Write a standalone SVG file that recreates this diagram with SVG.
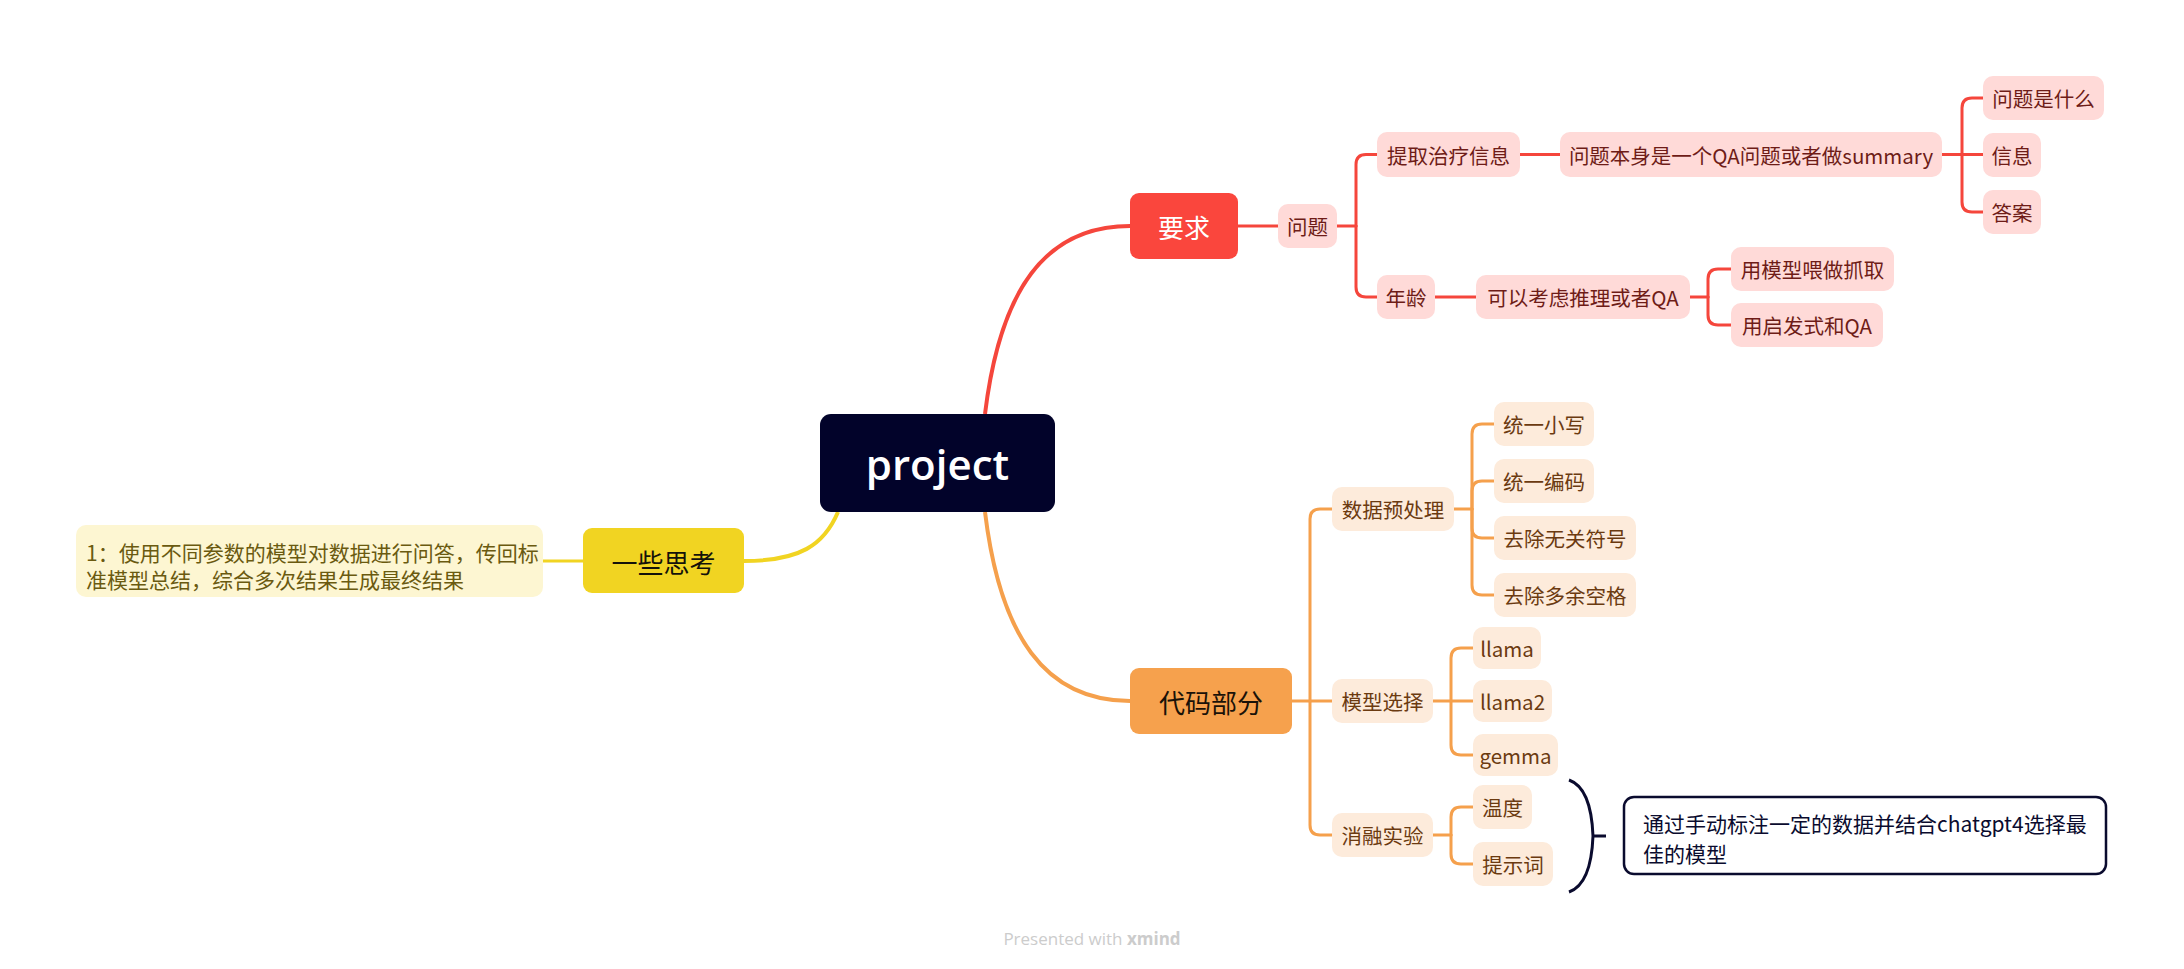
<svg xmlns="http://www.w3.org/2000/svg" width="2184" height="969" viewBox="0 0 2184 969">
  <style>
    text { font-family: "Noto Sans CJK SC", "Noto Sans", sans-serif; }
    .lbl { text-anchor: middle; dominant-baseline: central; font-size: 20.5px; }
    .red-sub rect { fill: #FFDAD8; }
    .red-sub text { fill: #6E1C17; }
    .org-sub rect { fill: #FDEBDB; }
    .org-sub text { fill: #6B3A10; }
    .red-line { fill: none; stroke: #F5463C; stroke-width: 3; stroke-linecap: round; }
    .org-line { fill: none; stroke: #F5A04C; stroke-width: 3; stroke-linecap: round; }
    .main { font-size: 26px; }
  </style>

  <rect width="2184" height="969" fill="#FFFFFF"/>

  <!-- connectors -->
  <g id="connectors">
    <!-- central curves -->
    <path d="M985,414 C1000,290 1045,226 1130,226" fill="none" stroke="#F5463C" stroke-width="4"/>
    <path d="M985,512 C1000,636 1045,701 1130,701" fill="none" stroke="#F5A04C" stroke-width="4"/>
    <path d="M838,512 C824,545 800,561 744,561" fill="none" stroke="#F1D422" stroke-width="4"/>
    <path d="M583,561 H543" fill="none" stroke="#F1D422" stroke-width="3"/>

    <!-- 要求 branch -->
    <path class="red-line" d="M1238,226 H1278"/>
    <path class="red-line" d="M1337,226 H1356"/>
    <path class="red-line" d="M1356,226 V164.5 Q1356,154.5 1366,154.5 H1377"/>
    <path class="red-line" d="M1356,226 V287 Q1356,297 1366,297 H1377"/>
    <path class="red-line" d="M1520,154.5 H1560"/>
    <path class="red-line" d="M1942,154.5 H1983"/>
    <path class="red-line" d="M1962,154.5 V108 Q1962,98 1972,98 H1983"/>
    <path class="red-line" d="M1962,154.5 V202 Q1962,212 1972,212 H1983"/>
    <path class="red-line" d="M1435,297 H1476"/>
    <path class="red-line" d="M1690,297 H1708"/>
    <path class="red-line" d="M1708,297 V279 Q1708,269 1718,269 H1731"/>
    <path class="red-line" d="M1708,297 V315 Q1708,325 1718,325 H1731"/>

    <!-- 代码部分 branch -->
    <path class="org-line" d="M1292,701 H1332"/>
    <path class="org-line" d="M1310,701 V519 Q1310,509 1320,509 H1332"/>
    <path class="org-line" d="M1310,701 V825 Q1310,835 1320,835 H1332"/>
    <path class="org-line" d="M1454,509 H1472"/>
    <path class="org-line" d="M1472,509 V434 Q1472,424 1482,424 H1494"/>
    <path class="org-line" d="M1472,509 V491 Q1472,481 1482,481 H1494"/>
    <path class="org-line" d="M1472,509 V528 Q1472,538 1482,538 H1494"/>
    <path class="org-line" d="M1472,509 V585 Q1472,595 1482,595 H1494"/>
    <path class="org-line" d="M1433,701 H1473"/>
    <path class="org-line" d="M1451,701 V658 Q1451,648 1461,648 H1473"/>
    <path class="org-line" d="M1451,701 V745 Q1451,755 1461,755 H1473"/>
    <path class="org-line" d="M1433,835 H1451"/>
    <path class="org-line" d="M1451,835 V817 Q1451,807 1461,807 H1473"/>
    <path class="org-line" d="M1451,835 V854 Q1451,864 1461,864 H1473"/>

    <!-- summary brace -->
    <path d="M1569,780 C1586,786 1592,810 1593,836 C1592,862 1586,886 1569,892 M1593,836 H1606" fill="none" stroke="#0A0B2E" stroke-width="3"/>
  </g>

  <!-- central topic -->
  <g id="project">
    <rect x="820" y="414" width="235" height="98" rx="11" fill="#02032A"/>
    <text x="937.5" y="463" text-anchor="middle" dominant-baseline="central" font-size="42" font-weight="600" fill="#FFFFFF" style="font-family:'Open Sans',sans-serif">project</text>
  </g>

  <!-- main topics -->
  <g id="yaoqiu">
    <rect x="1130" y="193" width="108" height="66" rx="9" fill="#FA463D"/>
    <text class="lbl main" x="1184" y="226" fill="#FFFFFF">要求</text>
  </g>
  <g id="daima">
    <rect x="1130" y="668" width="162" height="66" rx="9" fill="#F6A14D"/>
    <text class="lbl main" x="1211" y="701" fill="#1A1208">代码部分</text>
  </g>
  <g id="sikao">
    <rect x="583" y="528" width="161" height="65" rx="9" fill="#F1D422"/>
    <text class="lbl main" x="663.5" y="561" fill="#14120A">一些思考</text>
  </g>

  <!-- 要求 subtopics -->
  <g id="wenti" class="red-sub"><rect x="1278" y="204" width="59" height="44" rx="10"/><text class="lbl" x="1307.5" y="226">问题</text></g>
  <g id="tiqu" class="red-sub"><rect x="1377" y="132" width="143" height="45" rx="10"/><text class="lbl" x="1448.5" y="154.5">提取治疗信息</text></g>
  <g id="benshen" class="red-sub"><rect x="1560" y="132" width="382" height="45" rx="10"/><text class="lbl" x="1751" y="154.5">问题本身是一个QA问题或者做summary</text></g>
  <g id="shishenme" class="red-sub"><rect x="1983" y="76" width="121" height="44" rx="10"/><text class="lbl" x="2043.5" y="98">问题是什么</text></g>
  <g id="xinxi" class="red-sub"><rect x="1983" y="133" width="58" height="44" rx="10"/><text class="lbl" x="2012" y="155">信息</text></g>
  <g id="daan" class="red-sub"><rect x="1983" y="190" width="58" height="44" rx="10"/><text class="lbl" x="2012" y="212">答案</text></g>
  <g id="nianling" class="red-sub"><rect x="1377" y="275" width="58" height="44" rx="10"/><text class="lbl" x="1406" y="297">年龄</text></g>
  <g id="tuili" class="red-sub"><rect x="1476" y="275" width="214" height="44" rx="10"/><text class="lbl" x="1583" y="297">可以考虑推理或者QA</text></g>
  <g id="zhuaqu" class="red-sub"><rect x="1731" y="247" width="163" height="44" rx="10"/><text class="lbl" x="1812.5" y="269">用模型喂做抓取</text></g>
  <g id="qifa" class="red-sub"><rect x="1731" y="303" width="152" height="44" rx="10"/><text class="lbl" x="1807" y="325">用启发式和QA</text></g>

  <!-- 代码部分 subtopics -->
  <g id="yuchuli" class="org-sub"><rect x="1332" y="487" width="122" height="44" rx="10"/><text class="lbl" x="1393" y="509">数据预处理</text></g>
  <g id="xiaoxie" class="org-sub"><rect x="1494" y="402" width="100" height="44" rx="10"/><text class="lbl" x="1544" y="424">统一小写</text></g>
  <g id="bianma" class="org-sub"><rect x="1494" y="459" width="100" height="44" rx="10"/><text class="lbl" x="1544" y="481">统一编码</text></g>
  <g id="fuhao" class="org-sub"><rect x="1494" y="516" width="142" height="44" rx="10"/><text class="lbl" x="1565" y="538">去除无关符号</text></g>
  <g id="kongge" class="org-sub"><rect x="1494" y="573" width="142" height="44" rx="10"/><text class="lbl" x="1565" y="595">去除多余空格</text></g>
  <g id="xuanze" class="org-sub"><rect x="1332" y="679" width="101" height="44" rx="10"/><text class="lbl" x="1382.5" y="701">模型选择</text></g>
  <g id="llama" class="org-sub"><rect x="1473" y="627" width="68" height="42" rx="10"/><text class="lbl" x="1507" y="648">llama</text></g>
  <g id="llama2" class="org-sub"><rect x="1473" y="680" width="79" height="42" rx="10"/><text class="lbl" x="1512.5" y="701">llama2</text></g>
  <g id="gemma" class="org-sub"><rect x="1473" y="734" width="85" height="42" rx="10"/><text class="lbl" x="1515.5" y="755">gemma</text></g>
  <g id="xiaorong" class="org-sub"><rect x="1332" y="813" width="101" height="44" rx="10"/><text class="lbl" x="1382.5" y="835">消融实验</text></g>
  <g id="wendu" class="org-sub"><rect x="1473" y="785" width="59" height="44" rx="10"/><text class="lbl" x="1502.5" y="807">温度</text></g>
  <g id="tishici" class="org-sub"><rect x="1473" y="842" width="80" height="44" rx="10"/><text class="lbl" x="1513" y="864">提示词</text></g>

  <!-- 一些思考 note -->
  <g id="note">
    <rect x="76" y="525" width="467" height="72" rx="10" fill="#FDF6D2"/>
    <text x="86" y="551.5" font-size="21" dominant-baseline="central" fill="#6A5A10">1：使用不同参数的模型对数据进行问答，传回标</text>
    <text x="86" y="578.5" font-size="21" dominant-baseline="central" fill="#6A5A10">准模型总结，综合多次结果生成最终结果</text>
  </g>

  <!-- summary callout -->
  <g id="summary">
    <rect x="1624" y="797" width="482" height="77" rx="10" fill="#FFFFFF" stroke="#0A0B2E" stroke-width="2.5"/>
    <text x="1643" y="823" font-size="21" dominant-baseline="central" fill="#0A0B2E">通过手动标注一定的数据并结合chatgpt4选择最</text>
    <text x="1643" y="853" font-size="21" dominant-baseline="central" fill="#0A0B2E">佳的模型</text>
  </g>

  <!-- footer -->
  <text x="1092" y="938" text-anchor="middle" dominant-baseline="central" font-size="17" fill="#CCCCCC" style="font-family:'Open Sans',sans-serif">Presented with <tspan font-weight="bold">xmind</tspan></text>
</svg>
